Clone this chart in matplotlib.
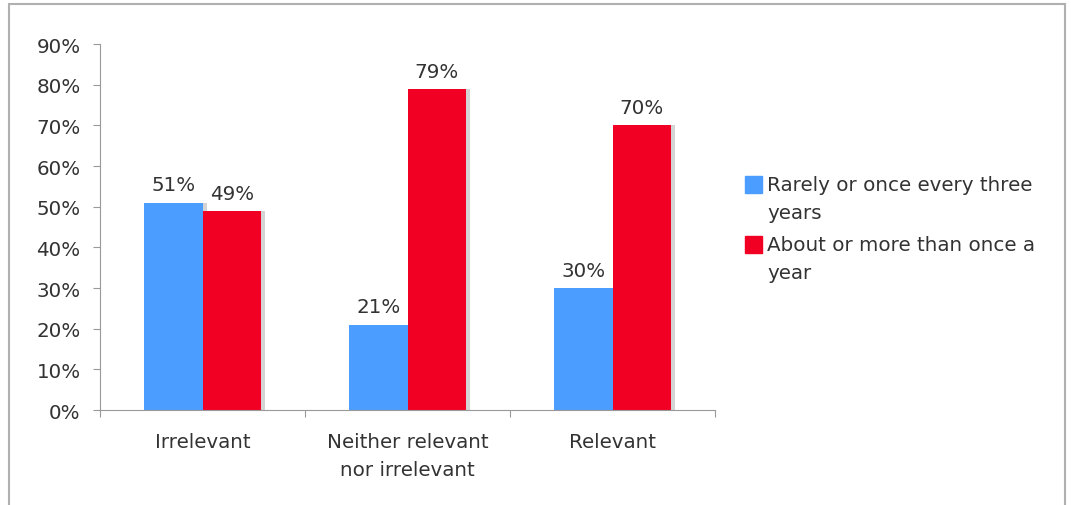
import matplotlib.pyplot as plt
import matplotlib.patches as mpatches
from matplotlib.ticker import FuncFormatter
import numpy as np

categories = ["Irrelevant", "Neither relevant\nnor irrelevant", "Relevant"]
series_names = ["Rarely or once every three\nyears", "About or more than once a\nyear"]
rarely = [51, 21, 30]
often = [49, 79, 70]
colors = ["#4b9dff", "#f20023"]

fs = 14.3
W, H = 1071, 506
fig = plt.figure(figsize=(W / 100, H / 100), dpi=100)
ax = fig.add_axes([0.0934, 0.1877, 0.5742, 0.7233])

x = np.arange(len(categories))
w = 0.285
for vals, off, c in [(rarely, -w / 2, colors[0]), (often, w / 2, colors[1])]:
    # soft drop shadow to the right of each bar
    ax.bar(x + off + 0.02, vals, w, color="#d4d4d4", zorder=1)
    bars = ax.bar(x + off, vals, w, color=c, zorder=2)
    for b, v in zip(bars, vals):
        ax.text(b.get_x() + b.get_width() / 2, v + 2.0, f"{v}%", ha="center",
                va="bottom", fontsize=fs, color="#333333")

ax.set_xlim(-0.5, 2.5)
ax.set_ylim(0, 90)
ax.set_yticks(range(0, 91, 10))
ax.yaxis.set_major_formatter(FuncFormatter(lambda v, p: f"{int(v)}%"))
ax.set_xticks([-0.5, 0.5, 1.5, 2.5], minor=False)
ax.set_xticklabels([])
ax.set_xticks(x, minor=True)
ax.set_xticklabels(categories, minor=True, fontsize=fs, color="#333333",
                   linespacing=1.6)
ax.tick_params(axis="x", which="minor", length=0, pad=16)
ax.tick_params(axis="x", which="major", length=5, color="#999999", direction="out")
ax.tick_params(axis="y", length=5, color="#999999", labelsize=fs,
               labelcolor="#333333", pad=9)
for s in ["top", "right"]:
    ax.spines[s].set_visible(False)
for s in ["left", "bottom"]:
    ax.spines[s].set_color("#999999")

# legend drawn by hand so the wrapped labels get the wider line spacing
for i, (name, c) in enumerate(zip(series_names, colors)):
    yc = 185 + i * 60
    fig.patches.append(mpatches.Rectangle((745 / W, 1 - (yc + 8.5) / H),
                                          17 / W, 17 / H, color=c,
                                          transform=fig.transFigure))
    fig.text(767 / W, 1 - (yc - 9) / H, name, ha="left", va="top",
             fontsize=fs, color="#333333", linespacing=1.6)

# outer chart border
fig.patches.append(mpatches.Rectangle((0.0084, -0.05), 0.986, 1.04,
                                      transform=fig.transFigure, fill=False,
                                      edgecolor="#b0b0b0", linewidth=1.5))

fig.savefig("out.png", dpi=100)
